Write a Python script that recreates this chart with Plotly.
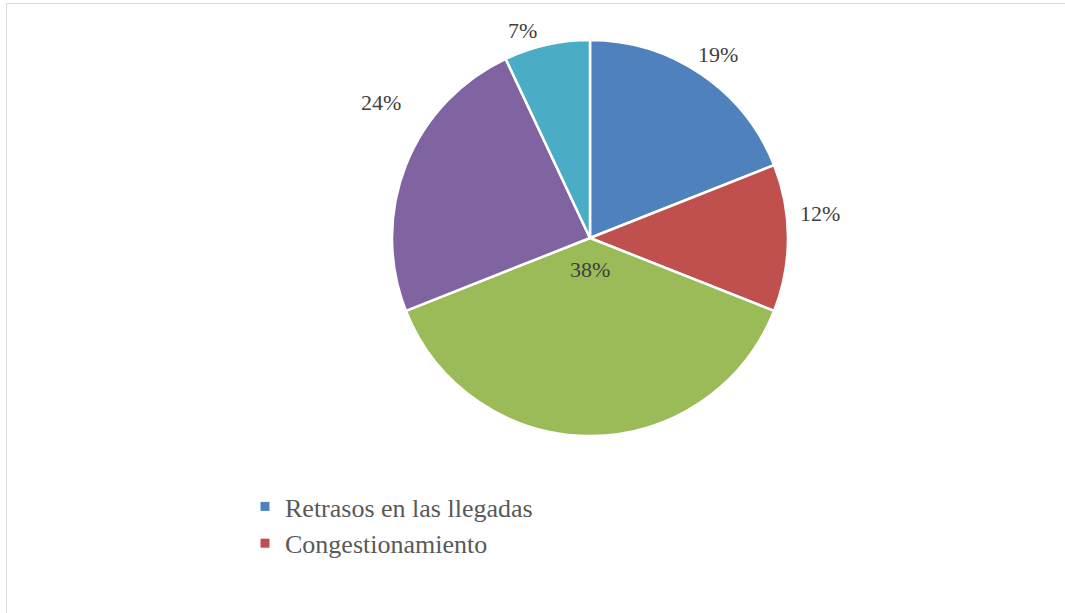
import math
import plotly.graph_objects as go

# Share of each cause, clockwise from 12 o'clock
categories = ["Retrasos en las llegadas", "Congestionamiento", "Categoría 3", "Categoría 4", "Categoría 5"]
values = [19, 12, 38, 24, 7]
colors = ["#4F81BD", "#C0504D", "#9BBB59", "#8064A2", "#4BACC6"]
legend_items = ["Retrasos en las llegadas", "Congestionamiento"]

# Label placement relative to each slice's mid-angle (style only)
label_radius = [1.13, 1.17, 0.16, 1.26, 1.10]
label_angle_shift = [0.8, -6.0, 0.0, 11.4, -5.4]

SERIF = "Liberation Serif, Times New Roman, DejaVu Serif, serif"
W, H = 1065, 613
CX, CY, R = 590, 238, 198

fig = go.Figure()
fig.add_trace(go.Pie(
    labels=categories,
    values=values,
    sort=False,
    direction="clockwise",
    rotation=0,
    marker=dict(colors=colors, line=dict(color="white", width=2.5)),
    textinfo="none",
    showlegend=False,
    domain=dict(x=[(CX - R) / W, (CX + R) / W], y=[(H - CY - R) / H, (H - CY + R) / H]),
))

# Legend entries for the first two causes
for name in legend_items:
    i = categories.index(name)
    fig.add_trace(go.Scatter(
        x=[None], y=[None], mode="markers", name=name,
        marker=dict(symbol="square", size=9, color=colors[i]),
    ))

# Percentage labels placed from cumulative angles
total = sum(values)
annotations = []
cum = 0
for v, rf, shift in zip(values, label_radius, label_angle_shift):
    mid = (cum + v / 2) / total * 360 + shift
    cum += v
    px = CX + rf * R * math.sin(math.radians(mid))
    py = CY - rf * R * math.cos(math.radians(mid))
    annotations.append(dict(
        x=px / W, y=1 - py / H, xref="paper", yref="paper",
        text=f"{round(v / total * 100)}%", showarrow=False,
        font=dict(family=SERIF, size=22, color="#404040"),
        xanchor="center", yanchor="middle",
    ))

fig.update_layout(
    width=W, height=H,
    margin=dict(l=0, r=0, t=0, b=0),
    paper_bgcolor="white", plot_bgcolor="white",
    xaxis=dict(visible=False), yaxis=dict(visible=False),
    annotations=annotations,
    legend=dict(
        x=245 / W, y=1 - 483 / H, xanchor="left", yanchor="top",
        font=dict(family=SERIF, size=26, color="#595959"),
        bgcolor="rgba(0,0,0,0)", itemwidth=30, tracegroupgap=0,
    ),
    shapes=[dict(
        type="rect", xref="paper", yref="paper",
        x0=6.5 / W, x1=1.02, y0=-0.02, y1=1 - 3.5 / H,
        line=dict(color="#D9D9D9", width=1), fillcolor="rgba(0,0,0,0)",
    )],
)

fig.write_html("out.html")
